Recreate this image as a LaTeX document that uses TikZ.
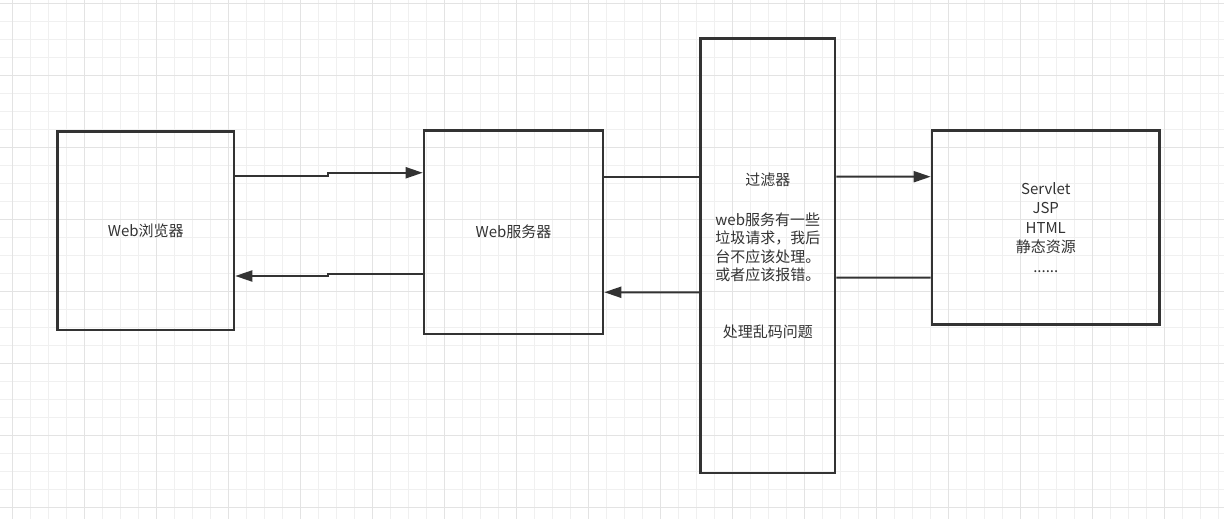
\documentclass[tikz,border=0pt]{standalone}
\usepackage{fontspec}
\setmainfont{Noto Sans CJK SC}
\usetikzlibrary{arrows.meta}
\definecolor{ink}{HTML}{333333}
\definecolor{gridminor}{HTML}{F0F0F0}
\definecolor{gridmajor}{HTML}{E3E3E3}
\tikzset{
    box/.style={draw=ink, line width=2.6pt, rectangle, inner sep=0pt, text=ink, align=center, font=\fontsize{15}{18.5}\selectfont},
    flow/.style={draw=ink, line width=2pt, -{Triangle[length=17pt,width=11pt]}},
    link/.style={draw=ink, line width=2pt},
}
\begin{document}
\begin{tikzpicture}[x=1pt,y=-1pt]
    \useasboundingbox (0,0) rectangle (1224,519);
    \fill[white] (0,0) rectangle (1224,519);
    \foreach \i in {0,...,67} {
        \draw[gridminor, line width=1pt] ({12.7+18*\i},0) -- ({12.7+18*\i},519);
    }
    \foreach \i in {0,...,28} {
        \draw[gridminor, line width=1pt] (0,{3.3+18*\i}) -- (1224,{3.3+18*\i});
    }
    \foreach \i in {0,...,16} {
        \draw[gridmajor, line width=1pt] ({12.7+72*\i},0) -- ({12.7+72*\i},519);
    }
    \foreach \i in {0,...,7} {
        \draw[gridmajor, line width=1pt] (0,{3.3+72*\i}) -- (1224,{3.3+72*\i});
    }
    \node[box, minimum width=176.5pt, minimum height=198.5pt] (browser) at (145.75,230.75) {Web浏览器};
    \node[box, minimum width=179pt, minimum height=203.5pt] (server) at (513.5,232.25) {Web服务器};
    \node[box, minimum width=134.5pt, minimum height=434.3pt] (filter) at (767.75,255.85)
        {过滤器\\[21.5pt]web服务有一些\\垃圾请求，我后\\台不应该处理。\\或者应该报错。\\[38.5pt]处理乱码问题};
    \node[box, minimum width=227.5pt, minimum height=194pt, font=\fontsize{15}{19.5}\selectfont] (target) at (1045.75,227.5)
        {Servlet\\JSP\\HTML\\静态资源\\......};
    \draw[flow] ([yshift=55pt]browser.east) -- ++(93,0) |- ([yshift=59.5pt]server.west);
    \draw[flow] ([yshift=-41.5pt]server.west) -- ++(-94.4,0) |- ([yshift=-45.25pt]browser.east);
    \draw[link] ([yshift=55.5pt]server.east) -- ([yshift=79.1pt]filter.west);
    \draw[flow] ([yshift=-36.45pt]filter.west) -- ([yshift=-60pt]server.east);
    \draw[flow] ([yshift=79.15pt]filter.east) -- ([yshift=50.8pt]target.west);
    \draw[link] ([yshift=-50.2pt]target.west) -- ([yshift=-21.85pt]filter.east);
\end{tikzpicture}
\end{document}
